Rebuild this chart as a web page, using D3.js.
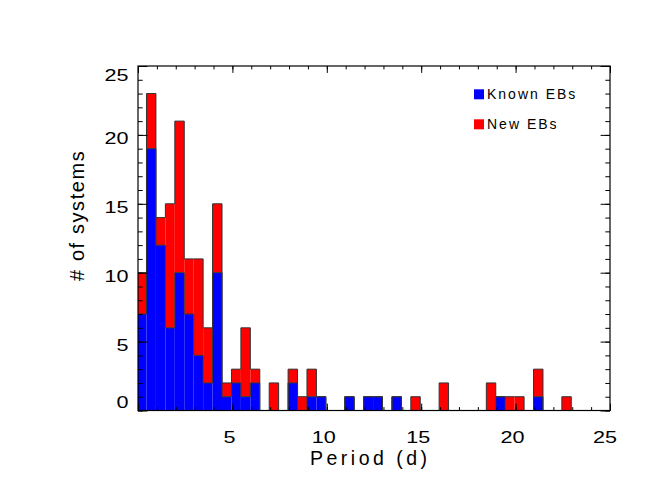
<!DOCTYPE html>
<html>
<head>
<meta charset="utf-8">
<script src="https://cdn.jsdelivr.net/npm/d3@7"></script>
<style>
  html, body { margin: 0; padding: 0; background: #fff; }
  svg { display: block; }
  text { font-family: "Liberation Sans", Arial, Helvetica, sans-serif; fill: #000; }
</style>
</head>
<body>
<svg id="chart" width="664" height="499"></svg>
<script>
// ---- data (bins of 0.5 d, left edges in days) ----
const binStart = [-0.05, 0.45, 0.95, 1.45, 1.95, 2.45, 2.95, 3.45, 3.95, 4.45,
                  4.95, 5.45, 5.95, 6.45, 6.95, 7.45, 7.95, 8.45, 8.95, 9.45,
                  9.95, 10.45, 10.95, 11.45, 11.95, 12.45, 12.95, 13.45, 13.95, 14.45,
                  14.95, 15.45, 15.95, 16.45, 16.95, 17.45, 17.95, 18.45, 18.95, 19.45,
                  19.95, 20.45, 20.95, 21.45, 21.95, 22.45, 22.95, 23.45, 23.95, 24.45,
                  24.95];
const binWidth = 0.5;
const knownEBs = [7, 19, 12, 6, 10, 7, 4, 2, 10, 1,
                  2, 1, 2, 0, 0, 0, 2, 0, 1, 1,
                  0, 0, 1, 0, 1, 1, 0, 1, 0, 0,
                  0, 0, 0, 0, 0, 0, 0, 0, 1, 0,
                  0, 0, 1, 0, 0, 0, 0, 0, 0, 0,
                  0];
const newEBs =   [3, 4, 2, 9, 11, 4, 7, 4, 5, 1,
                  1, 5, 1, 0, 2, 0, 1, 1, 2, 0,
                  0, 0, 0, 0, 0, 0, 0, 0, 0, 1,
                  0, 0, 2, 0, 0, 0, 0, 2, 0, 1,
                  1, 0, 2, 0, 0, 1, 0, 0, 0, 0,
                  0];
const xTickValues = [0, 5, 10, 15, 20, 25];
const xTickLabels = ["", "5", "10", "15", "20", "25"];
const yTickValues = [0, 5, 10, 15, 20, 25];
const yTickLabels = ["0", "5", "10", "15", "20", "25"];
const xMinorValues = d3.range(0, 26, 1);
const yMinorValues = d3.range(0, 26, 1);
const seriesNames = ["Known EBs", "New EBs"];
const seriesColors = ["#0000ff", "#ff0000"];

// ---- layout ----
const svg = d3.select("#chart");
const L = 138, R = 610, T = 66, B = 410.5;
const x = d3.scaleLinear().domain([0, 25]).range([L, R]);
const y = d3.scaleLinear().domain([0, 25]).range([B, T]);

svg.append("rect").attr("width", 664).attr("height", 499).attr("fill", "#fff");

svg.append("clipPath").attr("id", "plotclip")
  .append("rect").attr("x", L).attr("y", T).attr("width", R - L).attr("height", B - T);

const bins = binStart.map((s, i) => ({
  x0: s, x1: s + binWidth, known: knownEBs[i], total: knownEBs[i] + newEBs[i]
}));

const g = svg.append("g").attr("clip-path", "url(#plotclip)");

// blue: known
g.selectAll("rect.known").data(bins.filter(d => d.known > 0)).join("rect")
  .attr("class", "known")
  .attr("x", d => x(d.x0)).attr("width", d => x(d.x1) - x(d.x0))
  .attr("y", d => y(d.known)).attr("height", d => y(0) - y(d.known))
  .attr("fill", seriesColors[0]);

// red: new, stacked on top
g.selectAll("rect.new").data(bins.filter(d => d.total > d.known)).join("rect")
  .attr("class", "new")
  .attr("x", d => x(d.x0)).attr("width", d => x(d.x1) - x(d.x0))
  .attr("y", d => y(d.total)).attr("height", d => y(d.known) - y(d.total))
  .attr("fill", seriesColors[1]);

// step outlines
function stepPts(key) {
  const pts = bins.map(d => [d.x0, d[key]]);
  const last = bins[bins.length - 1];
  pts.push([last.x1, last[key]]);
  return pts;
}
const stepLine = d3.line().x(d => x(d[0])).y(d => y(d[1])).curve(d3.curveStepAfter);
["total", "known"].forEach(k => {
  g.append("path").attr("d", stepLine(stepPts(k)))
    .attr("fill", "none").attr("stroke", "#333").attr("stroke-width", 1);
});

// ---- axes (inward ticks on all four sides) ----
const axG = svg.append("g");
function addAxis(axis, tx, ty) {
  const a = axG.append("g").attr("transform", `translate(${tx},${ty})`).call(axis);
  a.select(".domain").remove();
  a.selectAll("text").remove();
  a.selectAll("line").attr("stroke", "#000").attr("stroke-width", 1);
}
const xMaj = 6.9, xMin = 3.4, yMaj = 9.4, yMin = 4.7;
addAxis(d3.axisBottom(x).tickValues(xTickValues).tickSize(-xMaj), 0, B);
addAxis(d3.axisBottom(x).tickValues(xMinorValues).tickSize(-xMin), 0, B);
addAxis(d3.axisTop(x).tickValues(xTickValues).tickSize(-xMaj), 0, T);
addAxis(d3.axisTop(x).tickValues(xMinorValues).tickSize(-xMin), 0, T);
addAxis(d3.axisLeft(y).tickValues(yTickValues).tickSize(-yMaj), L, 0);
addAxis(d3.axisLeft(y).tickValues(yMinorValues).tickSize(-yMin), L, 0);
addAxis(d3.axisRight(y).tickValues(yTickValues).tickSize(-yMaj), R, 0);
addAxis(d3.axisRight(y).tickValues(yMinorValues).tickSize(-yMin), R, 0);

axG.append("rect").attr("x", L).attr("y", T).attr("width", R - L).attr("height", B - T)
  .attr("fill", "none").attr("stroke", "#000").attr("stroke-width", 1.2);

// tick labels
const tickFont = 16, sx = 1.35;
xTickValues.forEach((v, i) => {
  if (!xTickLabels[i]) return;
  const off = (v === 25) ? -5 : -3;
  svg.append("text")
    .attr("transform", `translate(${x(v) + off},443) scale(${sx},1)`)
    .attr("text-anchor", "middle").attr("font-size", tickFont)
    .text(xTickLabels[i]);
});
yTickValues.forEach((v, i) => {
  let base = y(v) + 9;
  if (v === 25) base = T + 14.5;
  if (v === 0) base = B - 3;
  svg.append("text")
    .attr("transform", `translate(128.5,${base}) scale(${sx},1)`)
    .attr("text-anchor", "end").attr("font-size", tickFont)
    .text(yTickLabels[i]);
});

// axis titles
svg.append("text")
  .attr("x", 310).attr("y", 465)
  .attr("font-size", 19.5).attr("letter-spacing", 3.5)
  .text("Period (d)");
svg.append("text")
  .attr("transform", "translate(84,281) rotate(-90)")
  .attr("font-size", 20).attr("letter-spacing", 1.6)
  .text("# of systems");

// legend
seriesNames.forEach((name, i) => {
  const yy = 89.3 + i * 30;
  svg.append("rect").attr("x", 474).attr("y", yy).attr("width", 10).attr("height", 10)
    .attr("fill", seriesColors[i]);
  svg.append("text").attr("x", 487).attr("y", yy + 10)
    .attr("font-size", 14).attr("letter-spacing", 2)
    .text(name);
});
</script>
</body>
</html>
